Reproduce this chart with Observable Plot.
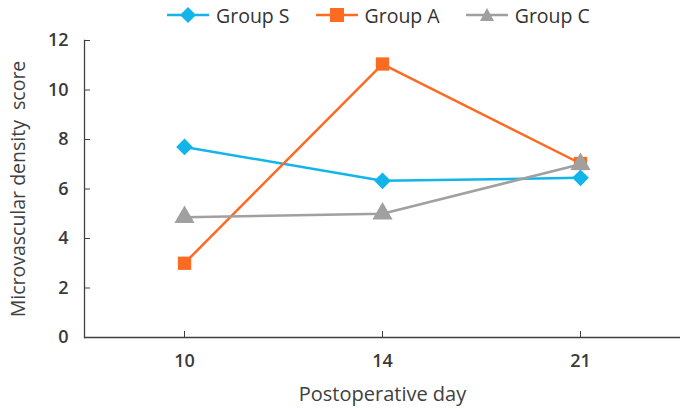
<!DOCTYPE html>
<html>
<head>
<meta charset="utf-8">
<script src="https://cdn.jsdelivr.net/npm/d3@7"></script>
<script src="https://cdn.jsdelivr.net/npm/@observablehq/plot@0.6"></script>
<style>
  html, body { margin: 0; padding: 0; background: #fff; }
  body { width: 681px; height: 409px; overflow: hidden; font-family: "Open Sans", sans-serif; color: #333; }
  #legend { height: 26px; padding-top: 4px; display: flex; align-items: center; justify-content: flex-start; padding-left: 167px; box-sizing: border-box; font-size: 19.5px; }
  .item { display: flex; align-items: center; margin-right: 26px; }
  .item svg { margin-right: 7px; }
</style>
</head>
<body>
<div id="legend"></div>
<div id="chart"></div>
<script>
const days = ["10", "14", "21"];
const seriesNames = ["Group S", "Group A", "Group C"];
const groupS = [7.7, 6.33, 6.45];
const groupA = [3.0, 11.05, 7.03];
const groupC = [4.86, 5.0, 7.0];
const colors = ["#12b5ea", "#fd6a21", "#a0a0a0"];
const symbols = ["diamond2", "square", "triangle"];
const yTicks = [0, 2, 4, 6, 8, 10, 12];
const xLabel = "Postoperative day";
const yLabel = "Microvascular density  score";

const data = [];
[groupS, groupA, groupC].forEach((vals, i) => {
  vals.forEach((v, j) => data.push({group: seriesNames[i], day: days[j], value: v}));
});

// Legend
const legend = document.getElementById("legend");
const shapes = {
  "Group S": '<path d="M21,3 L29,11 L21,19 L13,11 Z" fill="#12b5ea"/>',
  "Group A": '<rect x="14" y="4" width="14" height="14" fill="#fd6a21"/>',
  "Group C": '<path d="M21,4 L28,17 L14,17 Z" fill="#a0a0a0"/>'
};
seriesNames.forEach((name, i) => {
  const el = document.createElement("div");
  el.className = "item";
  el.innerHTML = `<svg width="42" height="22"><line x1="0" x2="42" y1="11" y2="11" stroke="${colors[i]}" stroke-width="2.5"/>${shapes[name]}</svg><span>${name}</span>`;
  legend.appendChild(el);
});

const W = 681, H = 383, mT = 14, mB = 72, mL = 84, mR = 1, tick = 6;
const fontFamily = '"Open Sans", sans-serif';
const chart = Plot.plot({
  width: W,
  height: H,
  marginTop: mT,
  marginBottom: mB,
  marginLeft: mL,
  marginRight: mR,
  style: {fontFamily, fontSize: "18px", color: "#3a3a3a", background: "#fff", overflow: "visible"},
  x: {type: "point", domain: days, padding: 0.5},
  y: {domain: [0, 12]},
  color: {domain: seriesNames, range: colors},
  symbol: {domain: seriesNames, range: symbols},
  marks: [
    Plot.frame({anchor: "left", stroke: "#404040", strokeWidth: 1.3}),
    Plot.ruleY([0], {stroke: "#404040", strokeWidth: 1.3}),
    Plot.axisY(yTicks, {tickSize: 0, tickPadding: 16, fontWeight: 600, fontSize: 18, fill: "#3a3a3a", label: null}),
    Plot.axisY([], {label: yLabel, labelAnchor: "center", labelArrow: "none", labelOffset: 73, fontSize: 19.5, fill: "#404040"}),
    Plot.tickY(yTicks.filter(d => d > 0), {y: d => d, insetRight: W - mL - mR - tick, stroke: "#404040"}),
    Plot.axisX({tickSize: 0, tickPadding: 17, fontWeight: 600, fontSize: 18, fill: "#3a3a3a", label: null}),
    Plot.axisX([], {label: xLabel, labelAnchor: "center", labelArrow: "none", labelOffset: 63, fontSize: 20, fill: "#404040"}),
    Plot.tickX(days, {x: d => d, insetTop: H - mT - mB - tick, stroke: "#404040"}),
    Plot.line(data, {x: "day", y: "value", stroke: "group", strokeWidth: 2.5}),
    Plot.dot(data, {x: "day", y: "value", symbol: "group", fill: "group", r: 7.5})
  ]
});
document.getElementById("chart").appendChild(chart);
</script>
</body>
</html>
